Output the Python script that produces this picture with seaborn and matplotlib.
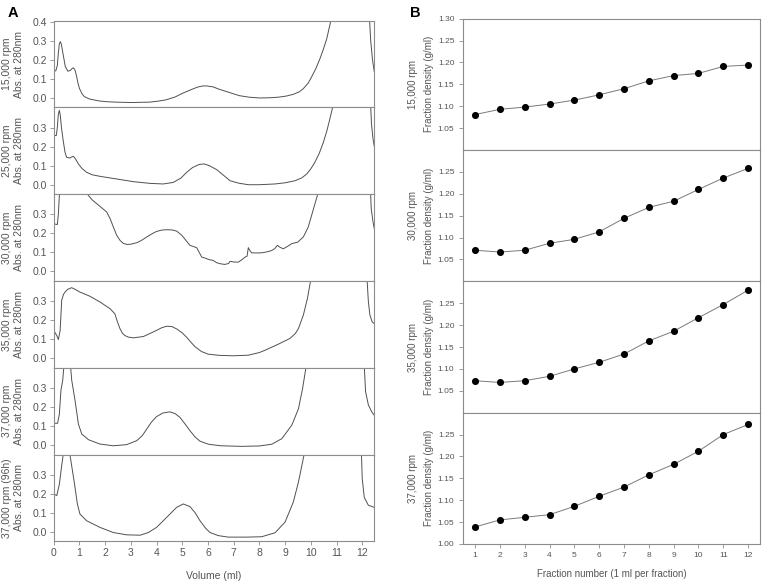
import numpy as np
import pandas as pd
import seaborn as sns
import matplotlib
matplotlib.use("Agg")
import matplotlib.pyplot as plt

# ---- panel A: absorbance traces (volume in ml, abs at 280 nm) ----
labels_a = ["15,000 rpm", "25,000 rpm", "30,000 rpm", "35,000 rpm",
            "37,000 rpm", "37,000 rpm (96h)"]

vol_15k = [0.0, 0.08, 0.14, 0.18, 0.22, 0.26, 0.3, 0.35, 0.45, 0.55, 0.65,
           0.72, 0.77, 0.83, 0.88, 0.94, 1.0, 1.1, 1.19, 1.4, 1.78, 2.1, 2.43,
           3.0, 3.72, 4.05, 4.37, 4.72, 5.02, 5.37, 5.6, 5.8, 5.95, 6.2, 6.45,
           6.8, 7.22, 7.6, 8.0, 8.4, 8.74, 9.05, 9.32, 9.55, 9.71, 9.9, 10.03,
           10.2, 10.36, 10.5, 10.62, 10.77, 10.85,
           12.25, 12.33, 12.4, 12.47]
abs_15k = [0.142, 0.142, 0.17, 0.235, 0.285, 0.295, 0.28, 0.24, 0.165, 0.14,
           0.145, 0.155, 0.158, 0.145, 0.12, 0.08, 0.05, 0.022, 0.007, -0.006,
           -0.016, -0.02, -0.022, -0.024, -0.022, -0.017, -0.01, 0.005, 0.025,
           0.045, 0.057, 0.063, 0.063, 0.058, 0.045, 0.03, 0.012, 0.004, 0.0,
           0.001, 0.004, 0.01, 0.019, 0.032, 0.049, 0.078, 0.11, 0.155, 0.207,
           0.26, 0.31, 0.4, 0.5, 0.5, 0.3, 0.2, 0.137]

vol_25k = [0.0, 0.1, 0.14, 0.18, 0.22, 0.26, 0.3, 0.37, 0.44, 0.5, 0.63, 0.7,
           0.76, 0.85, 0.96, 1.1, 1.28, 1.5, 1.8, 2.45, 3.1, 3.75, 4.26, 4.65,
           4.95, 5.17, 5.4, 5.65, 5.85, 6.05, 6.34, 6.6, 6.86, 7.2, 7.57, 8.0,
           8.61, 9.0, 9.39, 9.65, 9.84, 10.0, 10.16, 10.33, 10.49, 10.62, 10.71,
           10.84, 10.9, 12.3, 12.36, 12.42, 12.47]
abs_25k = [0.258, 0.258, 0.3, 0.37, 0.39, 0.36, 0.3, 0.23, 0.17, 0.144, 0.14,
           0.146, 0.149, 0.135, 0.109, 0.085, 0.065, 0.052, 0.044, 0.03, 0.016,
           0.007, 0.004, 0.012, 0.035, 0.065, 0.09, 0.106, 0.109, 0.1, 0.079,
           0.05, 0.021, 0.008, 0.0, 0.0, 0.004, 0.01, 0.021, 0.036, 0.056,
           0.083, 0.118, 0.165, 0.223, 0.28, 0.328, 0.4, 0.5,
           0.5, 0.32, 0.24, 0.2]

vol_30k = [0.0, 0.01, 0.14, 0.18, 0.22, 0.25, 1.22, 1.31, 1.5, 1.67, 1.9, 2.06,
           2.2, 2.32, 2.45, 2.58, 2.7, 2.84, 3.0, 3.23, 3.4, 3.62, 3.8, 4.0,
           4.2, 4.4, 4.6, 4.78, 4.98, 5.1, 5.3, 5.45, 5.56, 5.76, 5.9, 6.02,
           6.2, 6.34, 6.5, 6.66, 6.8, 6.86, 7.0, 7.18, 7.3, 7.44, 7.52, 7.57,
           7.63, 7.7, 7.9, 8.09, 8.3, 8.48, 8.6, 8.7, 8.8, 8.93, 9.1, 9.26,
           9.49, 9.71, 9.9, 10.07, 10.27, 10.35,
           12.3, 12.35, 12.42, 12.47]
abs_30k = [0.0, 0.25, 0.246, 0.3, 0.4, 0.5, 0.5, 0.405, 0.375, 0.356, 0.33,
           0.312, 0.275, 0.233, 0.19, 0.163, 0.148, 0.142, 0.143, 0.151, 0.162,
           0.181, 0.196, 0.21, 0.217, 0.219, 0.218, 0.212, 0.19, 0.17, 0.137,
           0.13, 0.125, 0.075, 0.07, 0.063, 0.058, 0.046, 0.04, 0.037, 0.042,
           0.053, 0.05, 0.049, 0.06, 0.075, 0.08, 0.125, 0.11, 0.098, 0.097,
           0.098, 0.103, 0.11, 0.12, 0.137, 0.127, 0.119, 0.132, 0.146, 0.154,
           0.181, 0.233, 0.312, 0.405, 0.5,
           0.5, 0.33, 0.26, 0.225]

vol_35k = [0.0, 0.12, 0.18, 0.25, 0.31, 0.38, 0.44, 0.55, 0.7, 0.85, 1.02,
           1.41, 1.8, 2.19, 2.38, 2.48, 2.58, 2.68, 2.77, 2.9, 3.1, 3.49, 4.0,
           4.2, 4.4, 4.6, 4.78, 5.0, 5.17, 5.35, 5.5, 5.75, 6.02, 6.47, 7.0,
           7.57, 8.0, 8.22, 8.74, 9.19, 9.4, 9.52, 9.71, 9.87, 9.99, 10.05,
           12.15, 12.24, 12.3, 12.39, 12.47]
abs_35k = [0.146, 0.119, 0.098, 0.146, 0.304, 0.335, 0.347, 0.362, 0.37, 0.36,
           0.347, 0.325, 0.295, 0.26, 0.233, 0.19, 0.154, 0.13, 0.119, 0.111,
           0.107, 0.114, 0.146, 0.16, 0.168, 0.166, 0.154, 0.133, 0.11, 0.082,
           0.06, 0.035, 0.021, 0.015, 0.013, 0.016, 0.03, 0.042, 0.074, 0.104,
           0.13, 0.156, 0.226, 0.314, 0.405, 0.5, 0.5, 0.296, 0.226, 0.19,
           0.182]

vol_37k = [0.0, 0.15, 0.22, 0.28, 0.35, 0.45, 0.6, 0.7, 0.83, 0.96, 1.09, 1.35,
           1.8, 2.32, 2.84, 3.23, 3.45, 3.62, 3.8, 4.0, 4.25, 4.52, 4.72, 4.91,
           5.11, 5.3, 5.5, 5.69, 6.02, 6.5, 7.31, 8.0, 8.48, 8.87, 9.26, 9.52,
           9.68, 9.81, 9.9, 12.05, 12.13, 12.24, 12.37, 12.47]
abs_37k = [0.114, 0.114, 0.163, 0.286, 0.34, 0.5, 0.5, 0.34, 0.233, 0.11,
           0.058, 0.028, 0.005, -0.004, 0.002, 0.023, 0.05, 0.084, 0.12, 0.149,
           0.168, 0.174, 0.165, 0.145, 0.11, 0.075, 0.042, 0.02, 0.004, -0.004,
           -0.007, -0.005, 0.004, 0.033, 0.104, 0.19, 0.296, 0.405, 0.5,
           0.5, 0.28, 0.21, 0.174, 0.156]

vol_96h = [0.0, 0.12, 0.22, 0.31, 0.37, 0.45, 0.58, 0.63, 0.79, 0.92, 1.02,
           1.28, 1.8, 2.32, 2.84, 3.36, 3.68, 4.0, 4.39, 4.78, 5.04, 5.3, 5.5,
           5.69, 5.9, 6.08, 6.4, 6.79, 7.5, 8.09, 8.61, 9.0, 9.32, 9.52, 9.74,
           9.82, 11.95, 12.0, 12.08, 12.24, 12.47]
abs_96h = [0.198, 0.19, 0.25, 0.347, 0.405, 0.5, 0.5, 0.405, 0.268, 0.146,
           0.093, 0.058, 0.023, -0.004, -0.016, -0.018, -0.004, 0.023, 0.075,
           0.128, 0.146, 0.132, 0.1, 0.058, 0.02, -0.004, -0.02, -0.028,
           -0.028, -0.026, -0.005, 0.051, 0.156, 0.261, 0.405, 0.5,
           0.5, 0.28, 0.18, 0.139, 0.128]

traces_a = [(vol_15k, abs_15k), (vol_25k, abs_25k), (vol_30k, abs_30k),
            (vol_35k, abs_35k), (vol_37k, abs_37k), (vol_96h, abs_96h)]

# ---- panel B: fraction densities ----
labels_b = ["15,000 rpm", "30,000 rpm", "35,000 rpm", "37,000 rpm"]
fractions = [1, 2, 3, 4, 5, 6, 7, 8, 9, 10, 11, 12]
dens_15k = [1.081, 1.093, 1.098, 1.105, 1.114, 1.126, 1.140, 1.158, 1.170,
            1.175, 1.191, 1.194]
dens_30k = [1.071, 1.067, 1.071, 1.087, 1.096, 1.113, 1.144, 1.169, 1.183,
            1.210, 1.236, 1.258]
dens_35k = [1.073, 1.069, 1.073, 1.083, 1.100, 1.115, 1.134, 1.164, 1.186,
            1.217, 1.247, 1.280]
dens_37k = [1.039, 1.055, 1.061, 1.067, 1.086, 1.109, 1.130, 1.158, 1.182,
            1.212, 1.250, 1.273]
series_b = [dens_15k, dens_30k, dens_35k, dens_37k]

sns.set_style("ticks")
plt.rcParams["font.family"] = ["Liberation Sans", "DejaVu Sans"]

txt = "#555555"
frame = "#8c8c8c"

fig = plt.figure(figsize=(7.62, 5.82), dpi=100)

# panel A axes
a_left, a_w = 0.0705, 0.4207
a_top, a_bot = 0.9644, 0.0699
a_h = (a_top - a_bot) / 6
for i, (vol, ab) in enumerate(traces_a):
    ax = fig.add_axes([a_left, a_top - (i + 1) * a_h, a_w, a_h])
    df = pd.DataFrame({"vol": vol, "abs": ab})
    sns.lineplot(data=df, x="vol", y="abs", ax=ax, color="#505050",
                 linewidth=0.7, estimator=None, sort=False)
    ax.set_xlim(0, 12.47)
    ax.set_ylim(-0.05, 0.405)
    if i == 0:
        ax.set_yticks([0.0, 0.1, 0.2, 0.3, 0.4])
    else:
        ax.set_yticks([0.0, 0.1, 0.2, 0.3])
    ax.set_yticklabels([f"{t:.1f}" for t in ax.get_yticks()])
    ax.set_xticks(range(0, 13))
    if i == 5:
        ax.set_xlabel("Volume (ml)", fontsize=7.5, color=txt, labelpad=9)
    else:
        ax.set_xlabel("")
        ax.tick_params(axis="x", bottom=False, labelbottom=False)
    ax.set_ylabel(labels_a[i] + "\nAbs. at 280nm", fontsize=7.5, color=txt,
                  linespacing=1.25)
    ax.yaxis.set_label_coords(-0.092, 0.5)
    ax.tick_params(labelsize=7.5, colors=txt, length=3, width=0.6,
                   color=frame, pad=2)
    for s in ax.spines.values():
        s.set_color(frame)
        s.set_linewidth(0.8)
        s.set_visible(True)

# panel B axes
b_left, b_w = 0.6072, 0.3902
b_top, b_bot = 0.9679, 0.0653
b_h = (b_top - b_bot) / 4
for i, dens in enumerate(series_b):
    ax = fig.add_axes([b_left, b_top - (i + 1) * b_h, b_w, b_h])
    df = pd.DataFrame({"frac": fractions, "dens": dens})
    sns.lineplot(data=df, x="frac", y="dens", ax=ax, color="#7a7a7a",
                 linewidth=0.7, estimator=None)
    sns.scatterplot(data=df, x="frac", y="dens", ax=ax, color="black",
                    s=26, edgecolor="black", linewidth=0, zorder=3)
    ax.set_xlim(0.5, 12.48)
    ax.set_ylim(1.0, 1.30)
    if i == 0:
        ticks = [1.05, 1.10, 1.15, 1.20, 1.25, 1.30]
    elif i == 3:
        ticks = [1.00, 1.05, 1.10, 1.15, 1.20, 1.25]
    else:
        ticks = [1.05, 1.10, 1.15, 1.20, 1.25]
    ax.set_yticks(ticks)
    ax.set_yticklabels([f"{t:.2f}" for t in ticks])
    ax.set_xticks(fractions)
    if i == 3:
        ax.set_xlabel("Fraction number (1 ml per fraction)", fontsize=7,
                      color=txt, labelpad=7)
    else:
        ax.set_xlabel("")
        ax.tick_params(axis="x", bottom=False, labelbottom=False)
    ax.set_ylabel(labels_b[i] + "\nFraction density (g/ml)", fontsize=7,
                  color=txt, linespacing=1.75)
    ax.yaxis.set_label_coords(-0.098, 0.5)
    ax.tick_params(labelsize=6, colors=txt, length=3, width=0.6,
                   color=frame, pad=3)
    for s in ax.spines.values():
        s.set_color(frame)
        s.set_linewidth(0.8)
        s.set_visible(True)

fig.text(0.010, 0.978, "A", fontsize=10.5, fontweight="bold", color="black",
         va="center")
fig.text(0.538, 0.978, "B", fontsize=10.5, fontweight="bold", color="black",
         va="center")

fig.savefig("out.png", dpi=100)
